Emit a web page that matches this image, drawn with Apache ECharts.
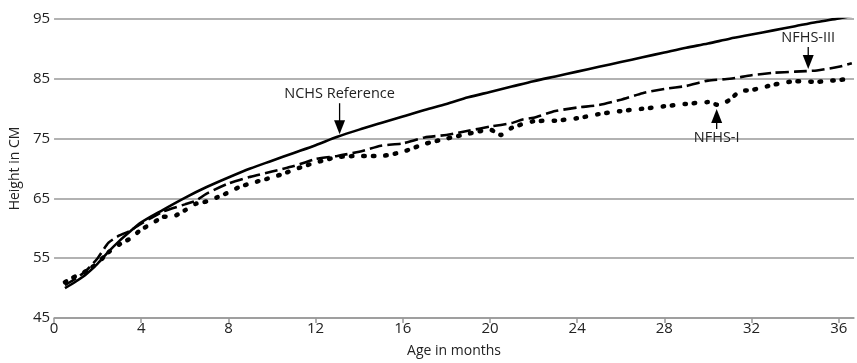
<!DOCTYPE html>
<html><head><meta charset="utf-8">
<script src="https://cdn.jsdelivr.net/npm/echarts@6/dist/echarts.min.js"></script>
<style>html,body{margin:0;padding:0;background:#fff}#c{width:857px;height:363px}</style>
</head><body><div id="c"></div>
<script>
// NCHS Reference (solid)
var nchsMonths = [0.5,1,1.5,2,2.5,3,3.5,4,5,6,7,8,9,10,11,12,13,14,15,16,17,18,19,20,21,22,23,24,25,26,27,28,29,30,31,32,33,34,35,36,36.6];
var nchsValues = [50,51.1,52.4,54.1,56.1,57.9,59.5,61,63.1,65.1,66.9,68.5,70,71.3,72.6,73.9,75.3,76.5,77.6,78.7,79.8,80.8,81.9,82.8,83.7,84.6,85.4,86.2,87,87.8,88.6,89.4,90.2,90.9,91.7,92.4,93.1,93.8,94.5,95.1,95.5];
// NFHS-III (dashed)
var nfhs3Months = [0.5,1,1.5,2,2.5,3,3.5,4,5,6,6.5,7,8,9,10,11,12,13,14,15,16,17,18,19,20,21,21.5,22,23,24,25,26,27,28,29,30,31,32,33,34,35,36,36.6];
var nfhs3Values = [50.5,51.6,53,55,57.6,58.8,59.6,60.8,62.8,64,64.6,65.8,67.5,68.6,69.5,70.4,71.6,72.1,72.8,73.8,74.2,75.2,75.6,76.3,77,77.6,78.2,78.5,79.6,80.2,80.6,81.5,82.6,83.3,83.8,84.7,85,85.6,86,86.2,86.4,87,87.6];
// NFHS-I (dotted)
var nfhs1Months = [0.5,1,1.5,2,2.5,3,3.5,4,4.5,5,5.5,6,6.5,7,7.5,8,8.5,9,10,10.5,11,12,13,14,15,16,17,18,19,20,20.5,21,22,23,24,25,26,27,28,29,30,30.5,31,31.5,32,33,34,35,36,36.6];
var nfhs1Values = [51,52,52.9,54.2,56,57.3,58.3,59.8,60.8,61.9,62,63,64.1,64.5,65.2,66,66.9,67.5,68.5,69.1,69.8,71,71.9,72.1,72.1,72.8,74.1,75,75.8,76.5,75.6,76.8,77.9,78,78.4,79.1,79.6,80,80.4,80.8,81.1,80.6,81.5,83,83.1,84,84.6,84.5,84.8,85];
var xTicks = [0,4,8,12,16,20,24,28,32,36];
var yTicks = [45,55,65,75,85,95];

function pairs(xs, ys){ return xs.map(function(x,i){ return [x, ys[i]]; }); }

var FONT = 'Open Sans';
var chart = echarts.init(document.getElementById('c'), null, {renderer:'canvas'});
chart.setOption({
  animation:false,
  backgroundColor:'#fff',
  grid:{left:49, right:0, top:19, bottom:40},
  xAxis:{
    type:'value', min:0, max:36.7, interval:4,
    name:'Age in months', nameLocation:'middle', nameGap:26,
    nameTextStyle:{fontFamily:FONT, fontSize:14, color:'#222'},
    axisLine:{show:true, lineStyle:{color:'#999', width:1.5}},
    axisTick:{show:true, length:5, lineStyle:{color:'#999', width:1.5}, customValues:xTicks},
    axisLabel:{fontFamily:FONT, fontSize:15, color:'#222', margin:3,
      formatter:function(v){ return xTicks.indexOf(v) >= 0 ? String(v) : ''; }},
    splitLine:{show:false}
  },
  yAxis:{
    type:'value', min:45, max:95, interval:10,
    name:'Height in CM', nameLocation:'middle', nameGap:31,
    nameTextStyle:{fontFamily:FONT, fontSize:14, color:'#222'},
    axisLine:{show:false}, axisTick:{show:false},
    axisLabel:{fontFamily:FONT, fontSize:15, color:'#222', margin:4},
    splitLine:{show:true, lineStyle:{color:'#999', width:1.5}}
  },
  series:[
    {name:'NCHS Reference', type:'line', data:pairs(nchsMonths, nchsValues), smooth:0.3, showSymbol:false,
      lineStyle:{color:'#000', width:2.6}},
    {name:'NFHS-III', type:'line', data:pairs(nfhs3Months, nfhs3Values), smooth:0.2, showSymbol:false,
      lineStyle:{color:'#000', width:2.6, type:[13,5]}},
    {name:'NFHS-I', type:'line', data:pairs(nfhs1Months, nfhs1Values), smooth:0.2, showSymbol:false,
      lineStyle:{color:'#000', width:4.5, type:[1.5,8,1.5,11], cap:'round'}}
  ]
});

function arrowDown(px, py, len, label){
  return [
    {type:'line', shape:{x1:px, y1:py-len, x2:px, y2:py-12}, style:{stroke:'#000', lineWidth:1.3}},
    {type:'polygon', shape:{points:[[px-5.5,py-14],[px+5.5,py-14],[px,py]]}, style:{fill:'#000'}},
    {type:'text', x:px, y:py-len-2, style:{text:label, fontFamily:FONT, fontSize:14.5, fill:'#222', align:'center', verticalAlign:'bottom'}}
  ];
}
function arrowUp(px, py, len, label){
  return [
    {type:'line', shape:{x1:px, y1:py+12, x2:px, y2:py+len}, style:{stroke:'#000', lineWidth:1.3}},
    {type:'polygon', shape:{points:[[px-5.5,py+14],[px+5.5,py+14],[px,py]]}, style:{fill:'#000'}},
    {type:'text', x:px, y:py+len+1, style:{text:label, fontFamily:FONT, fontSize:14.5, fill:'#222', align:'center', verticalAlign:'top'}}
  ];
}
var a = chart.convertToPixel({gridIndex:0}, [13.1, 75.4]);
var b = chart.convertToPixel({gridIndex:0}, [34.6, 86.3]);
var c = chart.convertToPixel({gridIndex:0}, [30.4, 80.3]);
var els = [].concat(arrowDown(a[0], a[1]-2, 31, 'NCHS Reference'), arrowDown(b[0], b[1]-2, 22, 'NFHS-III'), arrowUp(c[0], c[1]+2, 20, 'NFHS-I'));
chart.setOption({graphic:{elements:els}});
</script>
</body></html>
